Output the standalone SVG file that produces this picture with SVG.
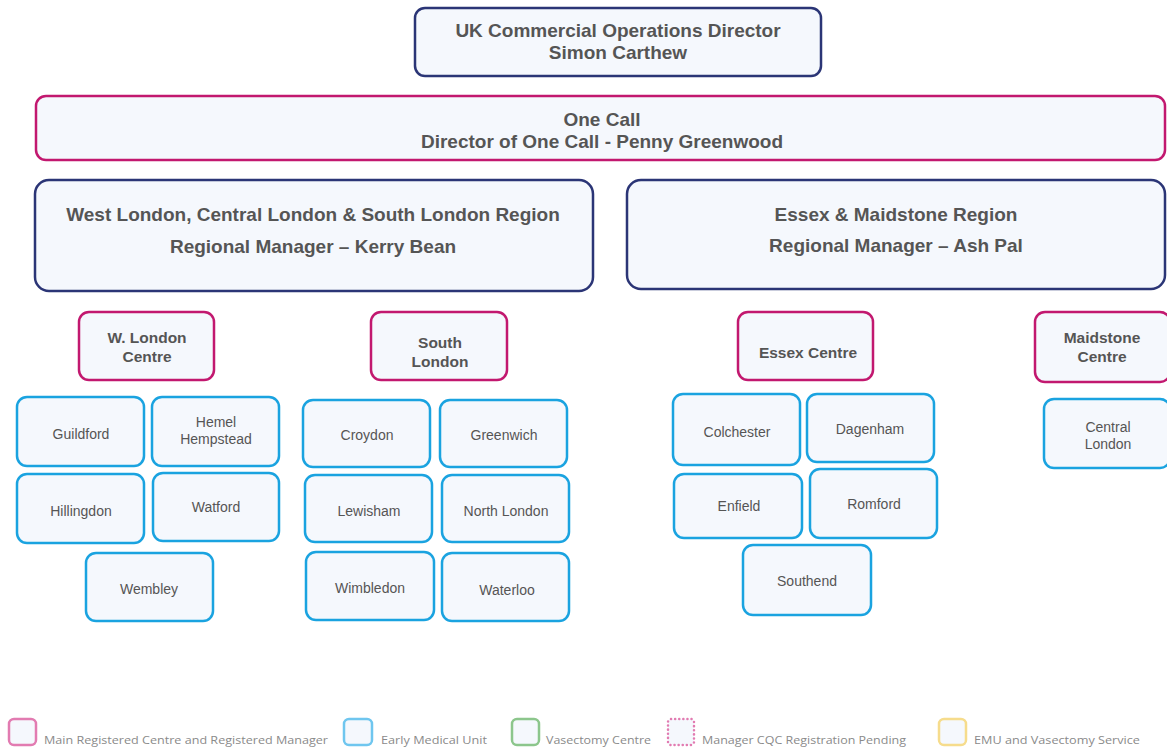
<svg xmlns="http://www.w3.org/2000/svg" width="1167" height="747" viewBox="0 0 1167 747">
<style>
  rect { fill: #f5f8fd; }
  .navy { stroke: #2b3576; stroke-width: 2.5; }
  .mag { stroke: #c2186f; stroke-width: 2.5; }
  .emu { stroke: #1aa3e0; stroke-width: 2.5; }
  .lg-mag { stroke: #e27bb1; stroke-width: 2.5; }
  .lg-emu { stroke: #6fc6ef; stroke-width: 2.5; }
  .lg-vas { stroke: #8cc68c; stroke-width: 2.5; }
  .lg-pend { stroke: #e27bb1; stroke-width: 2.5; stroke-dasharray: 0.1 4; stroke-linecap: round; }
  .lg-both { stroke: #f6dc8c; stroke-width: 2.5; }
  text { font-family: "Liberation Sans", Arial, sans-serif; fill: #555; text-anchor: middle; }
  .h1 { font-size: 19px; font-weight: bold; }
  .h2 { font-size: 15.5px; font-weight: bold; }
  .leaf { font-size: 14px; }
  .lg { font-family: "Open Sans", "Liberation Sans", sans-serif; font-size: 10.5px; fill: #8a8a8a; text-anchor: start; }
</style>

<g id="director">
  <rect class="navy" x="415" y="8" width="406" height="68" rx="10"/>
  <text class="h1" x="618" y="37">UK Commercial Operations Director</text>
  <text class="h1" x="618" y="59">Simon Carthew</text>
</g>

<g id="one-call">
  <rect class="mag" x="36" y="96" width="1129" height="64" rx="10"/>
  <text class="h1" x="602" y="126">One Call</text>
  <text class="h1" x="602" y="148">Director of One Call - Penny Greenwood</text>
</g>

<g id="west-region">
  <rect class="navy" x="35" y="180" width="558" height="111" rx="14"/>
  <text class="h1" x="313" y="221">West London, Central London &amp; South London Region</text>
  <text class="h1" x="313" y="253">Regional Manager – Kerry Bean</text>
</g>

<g id="essex-region">
  <rect class="navy" x="627" y="180" width="538" height="109" rx="14"/>
  <text class="h1" x="896" y="221">Essex &amp; Maidstone Region</text>
  <text class="h1" x="896" y="252">Regional Manager – Ash Pal</text>
</g>

<g id="w-london-centre">
  <rect class="mag" x="79" y="312" width="135" height="68" rx="10"/>
  <text class="h2" x="147" y="343">W. London</text>
  <text class="h2" x="147" y="362">Centre</text>
</g>
<g id="south-london-centre">
  <rect class="mag" x="371" y="312" width="136" height="68" rx="10"/>
  <text class="h2" x="440" y="348">South</text>
  <text class="h2" x="440" y="367">London</text>
</g>
<g id="essex-centre">
  <rect class="mag" x="738" y="312" width="135" height="68" rx="10"/>
  <text class="h2" x="808" y="358">Essex Centre</text>
</g>
<g id="maidstone-centre">
  <rect class="mag" x="1035" y="312" width="135" height="70" rx="10"/>
  <text class="h2" x="1102" y="343">Maidstone</text>
  <text class="h2" x="1102" y="362">Centre</text>
</g>

<g id="guildford">
  <rect class="emu" x="17" y="397" width="127" height="69" rx="10"/>
  <text class="leaf" x="81" y="439">Guildford</text>
</g>
<g id="hemel-hempstead">
  <rect class="emu" x="152" y="397" width="127" height="69" rx="10"/>
  <text class="leaf" x="216" y="427">Hemel</text>
  <text class="leaf" x="216" y="444">Hempstead</text>
</g>
<g id="hillingdon">
  <rect class="emu" x="17" y="474" width="127" height="69" rx="10"/>
  <text class="leaf" x="81" y="516">Hillingdon</text>
</g>
<g id="watford">
  <rect class="emu" x="153" y="473" width="126" height="68" rx="10"/>
  <text class="leaf" x="216" y="512">Watford</text>
</g>
<g id="wembley">
  <rect class="emu" x="86" y="553" width="127" height="68" rx="10"/>
  <text class="leaf" x="149" y="594">Wembley</text>
</g>

<g id="croydon">
  <rect class="emu" x="303" y="400" width="127" height="67" rx="10"/>
  <text class="leaf" x="367" y="440">Croydon</text>
</g>
<g id="greenwich">
  <rect class="emu" x="440" y="400" width="127" height="67" rx="10"/>
  <text class="leaf" x="504" y="440">Greenwich</text>
</g>
<g id="lewisham">
  <rect class="emu" x="305" y="475" width="127" height="67" rx="10"/>
  <text class="leaf" x="369" y="516">Lewisham</text>
</g>
<g id="north-london">
  <rect class="emu" x="442" y="475" width="127" height="67" rx="10"/>
  <text class="leaf" x="506" y="516">North London</text>
</g>
<g id="wimbledon">
  <rect class="emu" x="306" y="552" width="128" height="68" rx="10"/>
  <text class="leaf" x="370" y="593">Wimbledon</text>
</g>
<g id="waterloo">
  <rect class="emu" x="442" y="553" width="127" height="68" rx="10"/>
  <text class="leaf" x="507" y="595">Waterloo</text>
</g>

<g id="colchester">
  <rect class="emu" x="673" y="394" width="127" height="71" rx="10"/>
  <text class="leaf" x="737" y="437">Colchester</text>
</g>
<g id="dagenham">
  <rect class="emu" x="807" y="394" width="127" height="68" rx="10"/>
  <text class="leaf" x="870" y="434">Dagenham</text>
</g>
<g id="enfield">
  <rect class="emu" x="674" y="474" width="128" height="64" rx="10"/>
  <text class="leaf" x="739" y="511">Enfield</text>
</g>
<g id="romford">
  <rect class="emu" x="810" y="469" width="127" height="69" rx="10"/>
  <text class="leaf" x="874" y="509">Romford</text>
</g>
<g id="southend">
  <rect class="emu" x="743" y="545" width="128" height="70" rx="10"/>
  <text class="leaf" x="807" y="586">Southend</text>
</g>
<g id="central-london">
  <rect class="emu" x="1044" y="399" width="126" height="69" rx="10"/>
  <text class="leaf" x="1108" y="432">Central</text>
  <text class="leaf" x="1108" y="449">London</text>
</g>

<g id="legend">
  <rect class="lg-mag" x="9" y="719" width="27" height="26" rx="5"/>
  <text class="lg" x="44" y="744" textLength="284" lengthAdjust="spacingAndGlyphs">Main Registered Centre and Registered Manager</text>
  <rect class="lg-emu" x="344" y="719" width="28" height="26" rx="5"/>
  <text class="lg" x="381" y="744" textLength="106" lengthAdjust="spacingAndGlyphs">Early Medical Unit</text>
  <rect class="lg-vas" x="512" y="719" width="27" height="26" rx="5"/>
  <text class="lg" x="546" y="744" textLength="105" lengthAdjust="spacingAndGlyphs">Vasectomy Centre</text>
  <rect class="lg-pend" x="668" y="719" width="26" height="26" rx="3"/>
  <text class="lg" x="702" y="744" textLength="204" lengthAdjust="spacingAndGlyphs">Manager CQC Registration Pending</text>
  <rect class="lg-both" x="939" y="719" width="27" height="26" rx="5"/>
  <text class="lg" x="974" y="744" textLength="166" lengthAdjust="spacingAndGlyphs">EMU and Vasectomy Service</text>
</g>
</svg>
